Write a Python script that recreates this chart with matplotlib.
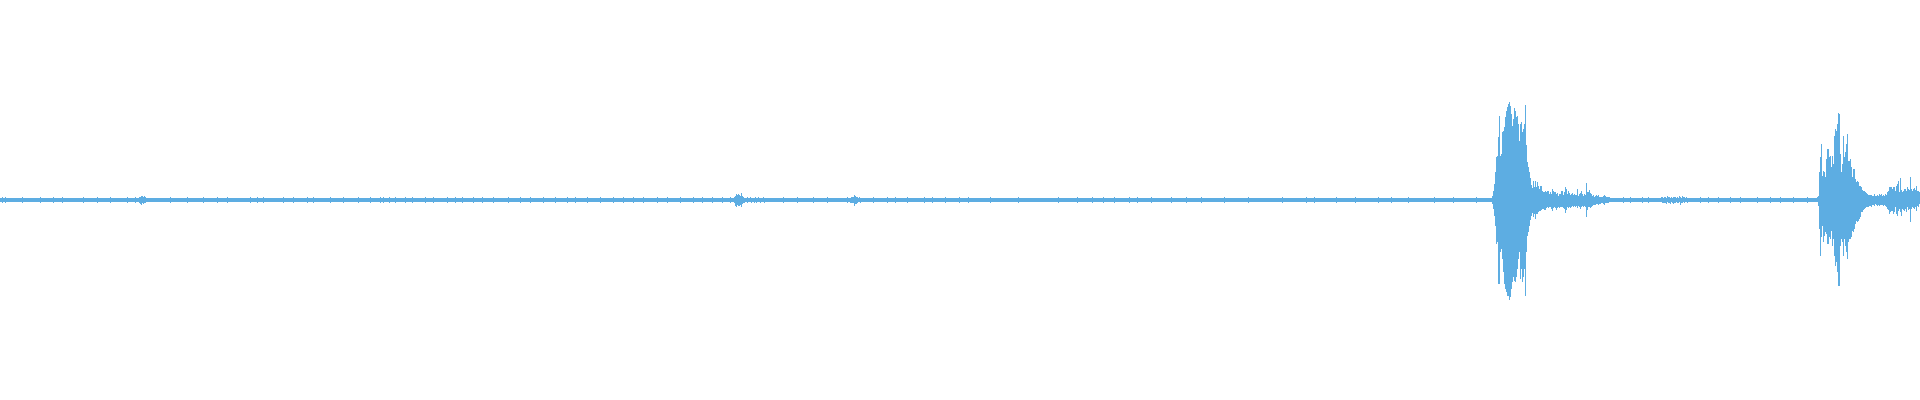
import numpy as np
import matplotlib
matplotlib.use("Agg")
import matplotlib.pyplot as plt

# waveform envelope, one value per sample column
# amplitudes are in display units where full scale is +/-200

n_samples = 1920
quiet_level = 1.8
tick_level = 2.8

# small one-sample ticks along the quiet baseline
quiet_ticks = [2, 5, 22, 40, 53, 62, 83, 97, 110, 127, 135, 157, 170, 187, 203,
               217, 227, 250, 257, 263, 283, 293, 307, 313, 330, 343, 358, 370,
               380, 383, 389, 395, 405, 412, 425, 433, 447, 455, 462, 473, 482,
               493, 508, 520, 530, 543, 555, 567, 575, 587, 600, 613, 623, 633,
               643, 657, 667, 680, 693, 702, 712, 722, 730, 783, 797, 813, 827,
               847, 873, 887, 895, 907, 924, 932, 945, 959, 968, 990, 1018, 1058,
               1077, 1092, 1103, 1114, 1129, 1137, 1151, 1171, 1186, 1201, 1224,
               1248, 1282, 1306, 1314, 1336, 1355, 1378, 1391, 1408, 1434, 1453,
               1476, 1623, 1630, 1642, 1648, 1663, 1670, 1673, 1677, 1700, 1708,
               1718, 1730, 1740, 1757, 1770, 1780, 1793, 1807]

# little clicks in the quiet part
click1_start = 139
click1_hi = [2.6, 3.4, 4.3, 3.6, 2.8, 3.8, 2.6, 2.4, 2.2, 2.3, 2.0, 2.3, 2.2,
             2.0, 2.3, 2.2, 2.0, 2.3, 2.2, 2.0, 2.2]
click1_lo = [2.8, 4.0, 4.7, 3.2, 4.2, 3.0, 2.8, 2.3, 2.4, 2.2, 2.3, 2.0, 2.4,
             2.2, 2.0, 2.3, 2.4, 2.0, 2.2, 2.3, 2.0]

click2_start = 734
click2_hi = [2.6, 4.3, 6.0, 5.3, 6.0, 4.7, 3.7, 7.0, 4.0, 2.7, 2.0, 2.3, 2.2,
             2.6, 2.0, 2.4, 3.3, 2.2, 2.0, 2.4, 2.2, 3.0, 2.0, 2.3, 2.6, 2.0,
             2.2, 2.4, 2.0, 3.2, 2.2, 2.0, 2.4, 2.2, 2.0, 2.0]
click2_lo = [3.0, 5.7, 6.7, 5.0, 5.7, 6.0, 4.7, 7.3, 4.0, 3.3, 2.7, 2.4, 2.2,
             2.8, 2.4, 2.2, 2.0, 3.3, 2.4, 2.2, 2.6, 2.0, 3.3, 2.2, 2.4, 2.0,
             2.6, 2.2, 2.0, 2.4, 3.0, 2.2, 2.0, 2.4, 2.0, 2.0]

click3_start = 850
click3_hi = [2.4, 2.8, 3.2, 2.6, 5.3, 3.6, 2.7, 2.7, 2.2, 2.6, 2.0, 2.4]
click3_lo = [2.6, 3.0, 3.4, 3.0, 5.7, 4.0, 4.0, 2.6, 2.4, 2.0, 2.6, 2.2]

click4_start = 1660
click4_hi = [2.2, 2.6, 3.0, 2.4, 3.4, 2.6, 2.2, 3.6, 2.8, 3.2, 2.4, 3.0, 2.2,
             2.8, 3.4, 2.6, 2.2, 3.0, 2.4, 3.8, 2.6, 2.2, 4.5, 2.6, 3.0, 2.2,
             2.6, 2.0, 2.4, 2.2]
click4_lo = [2.4, 2.2, 2.8, 3.4, 2.6, 3.0, 4.0, 2.4, 3.2, 2.6, 3.6, 2.4, 3.0,
             4.2, 2.6, 3.0, 2.4, 3.4, 2.8, 2.4, 4.8, 2.6, 3.2, 2.4, 2.8, 2.4,
             2.2, 2.6, 2.0, 2.2]

# first event
burst1_start = 1485
burst1_hi = [1.7, 1.7, 1.7, 2.3, 1.7, 1.7, 2.3, 4.3, 9.3, 16,
             27.7, 42.7, 44.3, 62.7, 83.7, 44.3, 46, 67.7, 69.3, 72.7,
             82.7, 89.3, 92.7, 96, 98.3, 94.3, 86, 74.3, 81, 91.7,
             89.3, 82.7, 84.3, 76, 59.3, 76, 77.7, 67.7, 71, 76,
             95, 55, 38, 33, 28, 22, 15, 12, 19, 13]
burst1_lo = [1.7, 1.7, 1.7, 2.3, 1.7, 1.7, 2.3, 4, 9, 15.7,
             25.7, 44, 42.3, 84, 84, 52.3, 49, 59, 72.3, 84,
             89, 92.3, 95.7, 95.7, 99.7, 97.3, 89, 82.3, 77.3, 80.7,
             82.3, 77.3, 69, 59, 52.3, 79, 69, 82.3, 77.3, 69,
             95.7, 52, 36, 32, 26, 20, 16, 13, 17, 14]

# decay after the first event
tail1_start = 1535
tail1_hi = [19.5, 12.8, 17.8, 14.5, 11.2, 14.5, 14.5, 9.5, 7.8, 7.8,
            9.5, 7.8, 9.5, 9.5, 6.2, 7.8, 6.2, 11.2, 9.5, 7.8,
            7.8, 6.2, 6.8, 4.5, 6.2, 6.2, 8.8, 9.5, 5.5, 7.8,
            12.8, 11.2, 6.2, 8.8, 6.8, 5.5, 6.2, 6.8, 5.5, 6.2,
            5.5, 5.5, 11.2, 4.5, 6.2, 6.8, 8.8, 6.2, 4.5, 6.2,
            5.5, 16.8, 7.8, 7.8, 10.2, 6.8, 6.2, 4.5, 5.5, 3.5,
            4.5, 5.5, 4.5, 5.5, 3.5, 3.5, 2.8, 2.8, 4.5, 5.5,
            4.5, 3.5, 3.5, 2.8, 2.8, 2.2]
tail1_lo = [18.8, 13.8, 13.8, 12.2, 10.5, 10.5, 9.8, 8.8, 8.8, 9.8,
            9.8, 7.8, 7.2, 7.8, 6.5, 7.2, 8.8, 10.5, 7.8, 7.2,
            7.8, 9.8, 7.8, 6.5, 7.8, 7.2, 6.5, 7.2, 7.8, 8.8,
            13.2, 9.8, 6.5, 7.8, 6.5, 7.8, 6.5, 5.5, 6.5, 5.5,
            6.5, 5.5, 7.8, 5.5, 6.5, 8.8, 6.5, 5.5, 6.5, 5.5,
            6.5, 17.2, 9.8, 7.2, 6.5, 7.8, 6.5, 5.5, 4.5, 4.5,
            5.2, 3.8, 3.8, 4.5, 3.8, 3.8, 3.2, 3.2, 3.8, 4.5,
            3.2, 3.2, 2.5, 2.5, 2.2, 2.2]

# second event, running off the right edge
burst2_start = 1810
burst2_hi = [1.8, 1.8, 1.8, 1.8, 1.8, 1.8, 2.2, 2.8, 4.5, 27.8,
             42.8, 56.2, 24.5, 29.5, 27.8, 22.8, 41.2, 51.2, 51.2, 42.8,
             44.5, 32.8, 44.5, 36.2, 64.5, 71.2, 69.5, 76.2, 87.2, 86.2,
             46.2, 27.8, 36.2, 64.5, 42.8, 47.8, 56.2, 66.2, 39.5, 39.5,
             41.2, 32.8, 22.8, 31.2, 31.2, 21.2, 17.8, 19.5, 17.8, 14.5,
             14.5, 12.8, 10.2, 8.8, 9.5, 7.8, 6.8, 6.2, 5.5, 5.5,
             4.8, 5.5, 4.5, 4.5, 6.2, 4.5, 4.5, 5.5, 4.5, 6.2,
             5.5, 6.2, 4.5, 5.5, 4.5, 6.2, 5.5, 7.8, 8.8, 12.8,
             13.5, 13.5, 11.2, 13.5, 13.5, 9.5, 14.5, 16.2, 19.5, 7.8,
             22.2, 10.2, 7.8, 9.5, 11.2, 11.2, 9.5, 12.8, 11.2, 10.2,
             22.8, 11.2, 9.5, 11.2, 12.2, 10.2, 14.5, 9.5, 9.5, 7.8]
burst2_lo = [1.8, 1.8, 1.8, 1.8, 1.8, 1.8, 2.2, 2.2, 5.5, 28.8,
             55.5, 37.2, 25.5, 42.2, 35.5, 32.2, 33.8, 43.8, 43.8, 37.2,
             38.8, 30.5, 45.5, 38.8, 55.5, 65.5, 62.2, 72.2, 85.5, 85.5,
             45.5, 38.8, 42.2, 55.5, 38.8, 45.5, 52.2, 58.8, 42.2, 38.8,
             38.8, 37.2, 30.5, 32.2, 28.8, 23.8, 20.5, 22.2, 20.5, 18.8,
             17.2, 12.2, 12.2, 9.8, 8.8, 7.8, 7.2, 6.5, 6.5, 5.5,
             5.5, 6.5, 5.2, 4.5, 5.5, 3.8, 4.5, 5.5, 4.5, 5.5,
             4.5, 5.2, 4.5, 5.5, 4.5, 5.5, 6.5, 8.8, 9.8, 13.8,
             12.2, 10.5, 11.2, 13.8, 12.2, 7.2, 13.8, 15.5, 10.5, 8.8,
             12.2, 15.5, 8.8, 9.8, 10.5, 8.8, 12.2, 7.2, 9.8, 8.8,
             22.2, 8.8, 6.5, 7.8, 8.8, 7.2, 10.5, 5.5, 7.2, 3.8]

# assemble the per-column envelope
hi = np.full(n_samples, quiet_level)
lo = np.full(n_samples, quiet_level)
hi[quiet_ticks] = tick_level
lo[quiet_ticks] = tick_level
pieces = [(click1_start, click1_hi, click1_lo),
          (click2_start, click2_hi, click2_lo),
          (click3_start, click3_hi, click3_lo),
          (click4_start, click4_hi, click4_lo),
          (burst1_start, burst1_hi, burst1_lo),
          (tail1_start, tail1_hi, tail1_lo),
          (burst2_start, burst2_hi, burst2_lo)]
for start, up, down in pieces:
    hi[start:start + len(up)] = up
    lo[start:start + len(down)] = down

samples = np.arange(n_samples)

fig = plt.figure(figsize=(19.2, 4), dpi=100)
ax = fig.add_axes([0, 0, 1, 1])
ax.bar(samples, hi + lo, bottom=-lo, width=1.0, align="edge",
       color="#5DADE2", linewidth=0)
ax.set_xlim(0, n_samples)
ax.set_ylim(-200, 200)
ax.axis("off")

fig.savefig("out.png", dpi=100, facecolor="white")
